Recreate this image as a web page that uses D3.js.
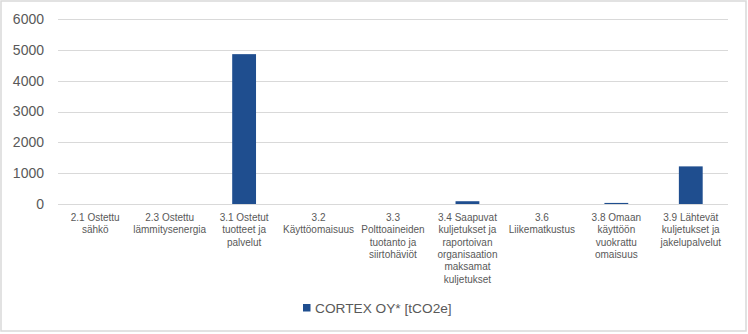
<!DOCTYPE html>
<html><head><meta charset="utf-8">
<script src="https://cdn.jsdelivr.net/npm/d3@7"></script>
<style>html,body{margin:0;padding:0;background:#fff;}svg{display:block;}</style>
</head><body>
<svg id="chart" width="748" height="334"></svg>
<script>
const categories = [
  ["2.1 Ostettu","sähkö"],
  ["2.3 Ostettu","lämmitysenergia"],
  ["3.1 Ostetut","tuotteet ja","palvelut"],
  ["3.2","Käyttöomaisuus"],
  ["3.3","Polttoaineiden","tuotanto ja","siirtohäviöt"],
  ["3.4 Saapuvat","kuljetukset ja","raportoivan","organisaation","maksamat","kuljetukset"],
  ["3.6","Liikematkustus"],
  ["3.8 Omaan","käyttöön","vuokrattu","omaisuus"],
  ["3.9 Lähtevät","kuljetukset ja","jakelupalvelut"]
];
const values = [0, 0, 4860, 0, 0, 90, 0, 35, 1220];
const yTicks = [0, 1000, 2000, 3000, 4000, 5000, 6000];
const seriesName = "CORTEX OY* [tCO2e]";

const svg = d3.select("#chart");
const W = 748, H = 334;
const m = {left: 58, right: 20, top: 19, bottom: 130};
const font = "'Liberation Sans', Arial, sans-serif";
const txt = "#595959";
const barColor = "#1f4e8f";

svg.append("rect").attr("x", 1).attr("y", 1).attr("width", W - 3).attr("height", H - 4)
  .attr("fill", "#fff").attr("stroke", "#d9d9d9").attr("stroke-width", 1.5);

const x = d3.scaleBand().domain(d3.range(categories.length))
  .range([m.left, 728]).paddingInner(0.68).paddingOuter(0.34);
const y = d3.scaleLinear().domain([0, 6000]).range([204, 19]);

// gridlines
svg.append("g").selectAll("line").data(yTicks).join("line")
  .attr("x1", m.left).attr("x2", 728)
  .attr("y1", d => Math.round(y(d)) + 0.5).attr("y2", d => Math.round(y(d)) + 0.5)
  .attr("stroke", "#d9d9d9").attr("stroke-width", 1);

// y axis labels
const yAxis = d3.axisLeft(y).tickValues(yTicks).tickSize(0).tickPadding(0).tickFormat(d3.format("d"));
const gy = svg.append("g").attr("transform", "translate(44,0)").call(yAxis);
gy.select(".domain").remove();
gy.selectAll("text").attr("fill", txt).attr("font-family", font).attr("font-size", 14);

// bars
svg.append("g").selectAll("rect").data(values).join("rect")
  .attr("x", (d, i) => x(i)).attr("width", x.bandwidth())
  .attr("y", d => y(d)).attr("height", d => y(0) - y(d))
  .attr("fill", barColor);

// x labels
const xl = svg.append("g");
categories.forEach((lines, i) => {
  const cx = x(i) + x.bandwidth() / 2;
  const t = xl.append("text").attr("text-anchor", "middle")
    .attr("fill", txt).attr("font-family", font).attr("font-size", 10);
  lines.forEach((ln, k) => {
    t.append("tspan").attr("x", cx).attr("y", 221 + k * 12.3).text(ln);
  });
});

// legend
const lg = svg.append("g");
lg.append("rect").attr("x", 303).attr("y", 304).attr("width", 7.5).attr("height", 7.5).attr("fill", barColor);
lg.append("text").attr("x", 315).attr("y", 312.5).attr("fill", txt)
  .attr("font-family", font).attr("font-size", 13.7).text(seriesName);
</script>
</body></html>
